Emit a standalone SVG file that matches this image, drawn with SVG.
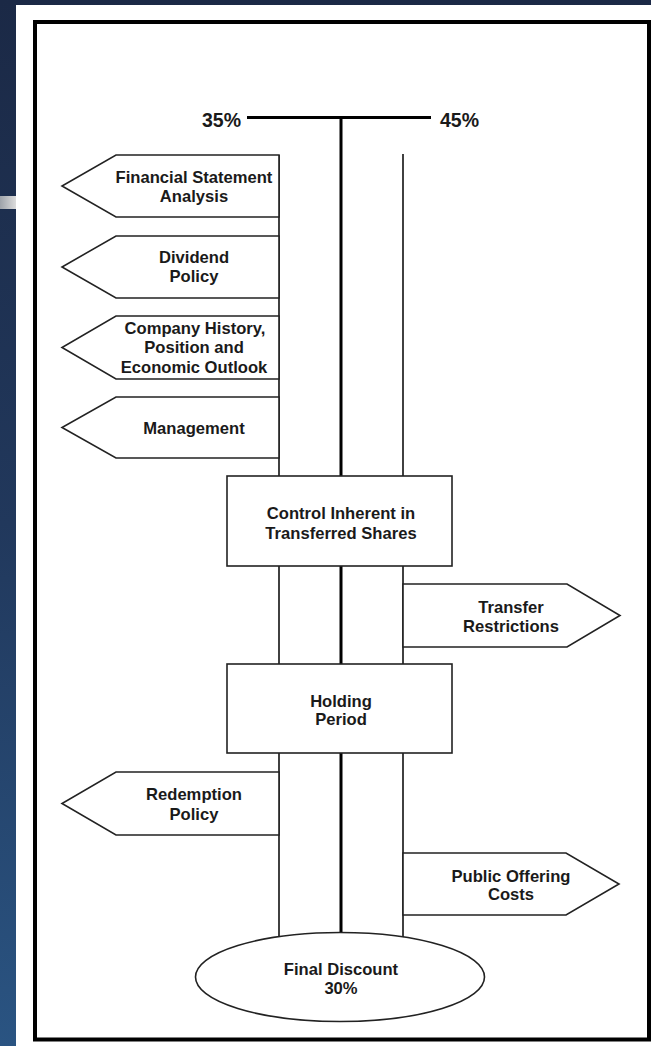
<svg xmlns="http://www.w3.org/2000/svg" width="651" height="1046" viewBox="0 0 651 1046">
  <defs>
    <linearGradient id="bg" x1="0" y1="0" x2="0" y2="1">
      <stop offset="0" stop-color="#1b2946"/>
      <stop offset="0.5" stop-color="#21385c"/>
      <stop offset="1" stop-color="#2a5482"/>
    </linearGradient>
    <linearGradient id="streak" x1="0" y1="0" x2="1" y2="0">
      <stop offset="0" stop-color="#9ea3aa"/>
      <stop offset="1" stop-color="#dcdcdc"/>
    </linearGradient>
    <style>
      .shape { fill: #ffffff; stroke: #222222; stroke-width: 1.6; }
      .thin { stroke: #111111; stroke-width: 1.6; fill: none; }
      .thick { stroke: #000000; stroke-width: 3; fill: none; }
      .lbl { font-family: "Liberation Sans", Arial, sans-serif; font-weight: bold; font-size: 16.6px; fill: #1a1a1a; text-anchor: middle; }
      .pct { font-family: "Liberation Sans", Arial, sans-serif; font-weight: bold; font-size: 19.5px; fill: #1a1a1a; }
    </style>
  </defs>

  <!-- background -->
  <rect x="0" y="0" width="651" height="1046" fill="url(#bg)"/>
  <rect x="0" y="196" width="16" height="13" fill="url(#streak)"/>
  <rect x="16" y="5" width="635" height="1041" fill="#ffffff"/>
  <rect x="35" y="22" width="614" height="1017.5" fill="#ffffff" stroke="#000000" stroke-width="4"/>

  <!-- connectors -->
  <g id="connectors">
    <line class="thick" x1="247" y1="117.5" x2="431" y2="117.5"/>
    <line class="thick" x1="341" y1="117.5" x2="341" y2="960"/>
    <line class="thin" x1="279" y1="155" x2="279" y2="960"/>
    <line class="thin" x1="403" y1="154" x2="403" y2="960"/>
  </g>

  <g id="range-labels">
    <text class="pct" x="241" y="126.5" text-anchor="end">35%</text>
    <text class="pct" x="440" y="126.5">45%</text>
  </g>

  <g id="node-financial-statement-analysis">
    <polygon class="shape" points="279,155 116,155 62,186 116,217 279,217"/>
    <text class="lbl" x="194" y="182.5">Financial Statement</text>
    <text class="lbl" x="194" y="201.5">Analysis</text>
  </g>

  <g id="node-dividend-policy">
    <polygon class="shape" points="279,236 116,236 62,267 116,298 279,298"/>
    <text class="lbl" x="194" y="263">Dividend</text>
    <text class="lbl" x="194" y="282">Policy</text>
  </g>

  <g id="node-company-history">
    <polygon class="shape" points="279,316 116,316 62,347.5 116,379 279,379"/>
    <text class="lbl" x="195" y="333.5">Company History,</text>
    <text class="lbl" x="194" y="353">Position and</text>
    <text class="lbl" x="194" y="372.5">Economic Outlook</text>
  </g>

  <g id="node-management">
    <polygon class="shape" points="279,397 116,397 62,427.5 116,458 279,458"/>
    <text class="lbl" x="194" y="433.5">Management</text>
  </g>

  <g id="node-control">
    <rect class="shape" x="227" y="476" width="225" height="90"/>
    <text class="lbl" x="341" y="519">Control Inherent in</text>
    <text class="lbl" x="341" y="538.5">Transferred Shares</text>
  </g>

  <g id="node-transfer-restrictions">
    <polygon class="shape" points="403,584 567,584 620,615.5 567,647 403,647"/>
    <text class="lbl" x="511" y="612.5">Transfer</text>
    <text class="lbl" x="511" y="631.5">Restrictions</text>
  </g>

  <g id="node-holding-period">
    <rect class="shape" x="227" y="664" width="225" height="89"/>
    <text class="lbl" x="341" y="706.5">Holding</text>
    <text class="lbl" x="341" y="725">Period</text>
  </g>

  <g id="node-redemption-policy">
    <polygon class="shape" points="279,772 116,772 62,803.5 116,835 279,835"/>
    <text class="lbl" x="194" y="800">Redemption</text>
    <text class="lbl" x="194" y="819.5">Policy</text>
  </g>

  <g id="node-public-offering-costs">
    <polygon class="shape" points="403,853 566,853 619,884 566,915 403,915"/>
    <text class="lbl" x="511" y="881.5">Public Offering</text>
    <text class="lbl" x="511" y="900">Costs</text>
  </g>

  <g id="node-final-discount">
    <ellipse class="shape" cx="340" cy="977" rx="144.5" ry="44.5"/>
    <text class="lbl" x="341" y="975">Final Discount</text>
    <text class="lbl" x="341" y="994">30%</text>
  </g>
</svg>
